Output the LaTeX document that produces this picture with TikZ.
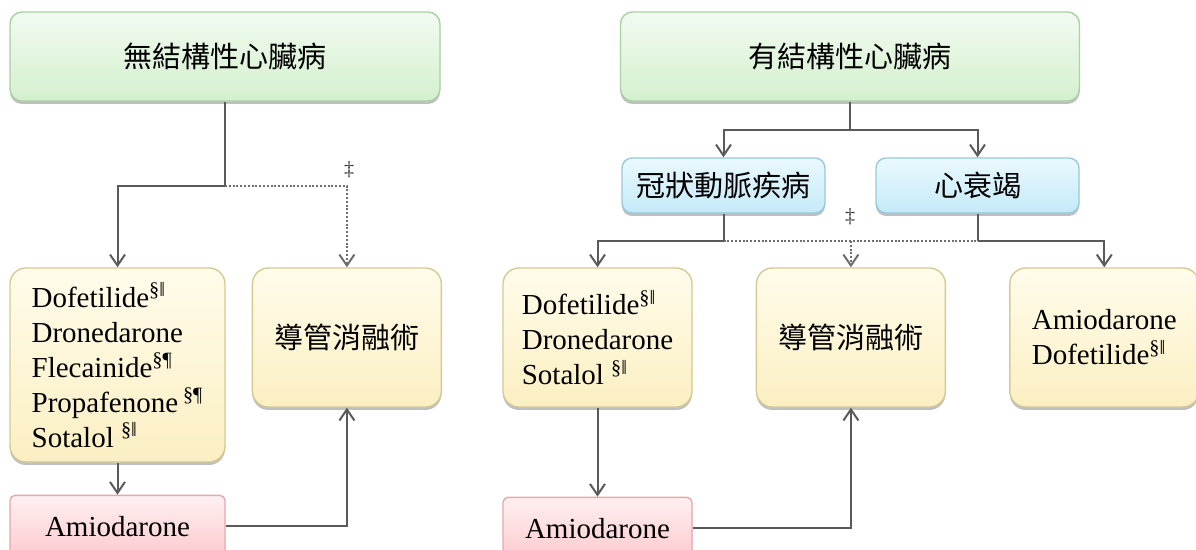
\documentclass[tikz,border=0pt]{standalone}
\usepackage{fontspec}
\setmainfont{Liberation Serif}
\newfontfamily\cjk{Noto Sans CJK TC}
\usetikzlibrary{positioning,shadows,arrows.meta}

\definecolor{linegray}{HTML}{5A5A5A}
\definecolor{dotgray}{HTML}{6E6E6E}
\definecolor{greentop}{HTML}{F1FBF0}
\definecolor{greenbot}{HTML}{D4F0CE}
\definecolor{greenrim}{HTML}{ABD0A5}
\definecolor{bluetop}{HTML}{EAF9FE}
\definecolor{bluebot}{HTML}{C4EAF8}
\definecolor{bluerim}{HTML}{98C9DC}
\definecolor{yellowtop}{HTML}{FFFCEB}
\definecolor{yellowbot}{HTML}{FBEFC2}
\definecolor{yellowrim}{HTML}{D6CA94}
\definecolor{pinktop}{HTML}{FFF0F1}
\definecolor{pinkbot}{HTML}{FCCACE}
\definecolor{pinkrim}{HTML}{E6A8AC}

\begin{document}
\begin{tikzpicture}[x=0.5pt,y=-0.5pt, >={Straight Barb[length=5.5pt,width=7.5pt]},
  box/.style={draw, line width=0.7pt, inner sep=0pt, align=center,
    drop shadow={shadow xshift=0pt,shadow yshift=-1.5pt,opacity=0.25,fill=black},
    font=\fontsize{14.5}{17.5}\selectfont},
  rootbox/.style={box, draw=greenrim, top color=greentop, bottom color=greenbot,
    rounded corners=6pt, minimum height=44.5pt},
  sitebox/.style={box, draw=bluerim, top color=bluetop, bottom color=bluebot,
    rounded corners=5pt, minimum width=101.5pt, minimum height=27.5pt},
  drugbox/.style={box, draw=yellowrim, top color=yellowtop, bottom color=yellowbot,
    rounded corners=8pt, minimum width=94.5pt, minimum height=69.5pt, align=left},
  rescuebox/.style={box, draw=pinkrim, top color=pinktop, bottom color=pinkbot,
    rounded corners=2.5pt, minimum width=107.5pt, minimum height=31pt},
  line/.style={draw=linegray, line width=1pt},
  dotline/.style={draw=dotgray, line width=1pt, dash pattern=on 1pt off 0.9pt},
  dagger/.style={font=\fontsize{10}{10}\selectfont, text=black!80, inner sep=0pt}]

  \useasboundingbox (0,0) rectangle (1196,550);

  % no structural heart disease
  \node [rootbox, minimum width=215pt] (ttl1) at (225,56.5) {\cjk 無結構性心臟病};
  \node [drugbox, minimum width=107.5pt, minimum height=97pt] (drug1) at (117.5,365)
      {Dofetilide\textsuperscript{§‖}\\
       Dronedarone\\
       Flecainide\textsuperscript{§¶}\\
       Propafenone\,\textsuperscript{§¶}\\
       Sotalol \textsuperscript{§‖}};
  \node [drugbox, align=center, right=13pt of drug1.north east, anchor=north west] (abl1) {\cjk 導管消融術};
  \node [rescuebox, below=16pt of drug1] (amio1) {Amiodarone};
  \coordinate (split1) at (225,186);
  \node [dagger] (dag1) at (349,170) {‡};

  \draw [line] (ttl1.south) -- (split1);
  \draw [line,->] (split1) -| (drug1.north);
  \draw [dotline,->] (split1) -| (abl1.north);
  \draw [line,->] (drug1) -- (amio1);
  \draw [line,->] (amio1.east) -| (abl1.south);

  % structural heart disease
  \node [rootbox, minimum width=229.5pt] (ttl2) at (850,56.5) {\cjk 有結構性心臟病};
  \node [sitebox] (cad) at (723.5,185.5) {\cjk 冠狀動脈疾病};
  \node [sitebox] (hf) at (977.5,185.5) {\cjk 心衰竭};
  \node [drugbox] (drug2) at (597.5,337.5)
      {Dofetilide\textsuperscript{§‖}\\
       Dronedarone\\
       Sotalol \textsuperscript{§‖}};
  \node [drugbox, align=center, right=31.5pt of drug2] (abl2) {\cjk 導管消融術};
  \node [drugbox, right=31.5pt of abl2] (drug3)
      {Amiodarone\\
       Dofetilide\textsuperscript{§‖}};
  \node [rescuebox, minimum width=94.5pt, below=44.5pt of drug2] (amio2) {Amiodarone};
  \coordinate (split2) at (850,130);
  \coordinate (split3) at (723.5,241);
  \coordinate (split4) at (977.5,241);
  \node [dagger] (dag2) at (850,217) {‡};

  \draw [line] (ttl2.south) -- (split2);
  \draw [line,->] (split2) -| (cad.north);
  \draw [line,->] (split2) -| (hf.north);
  \draw [line] (cad.south) -- (split3);
  \draw [line,->] (split3) -| (drug2.north);
  \draw [dotline] (split3) -- (split4);
  \draw [dotline,->] (abl2.north |- split3) -- (abl2.north);
  \draw [line] (hf.south) -- (split4);
  \draw [line,->] (split4) -| (drug3.north);
  \draw [line,->] (drug2) -- (amio2);
  \draw [line,->] (amio2.east) -| (abl2.south);
\end{tikzpicture}
\end{document}
